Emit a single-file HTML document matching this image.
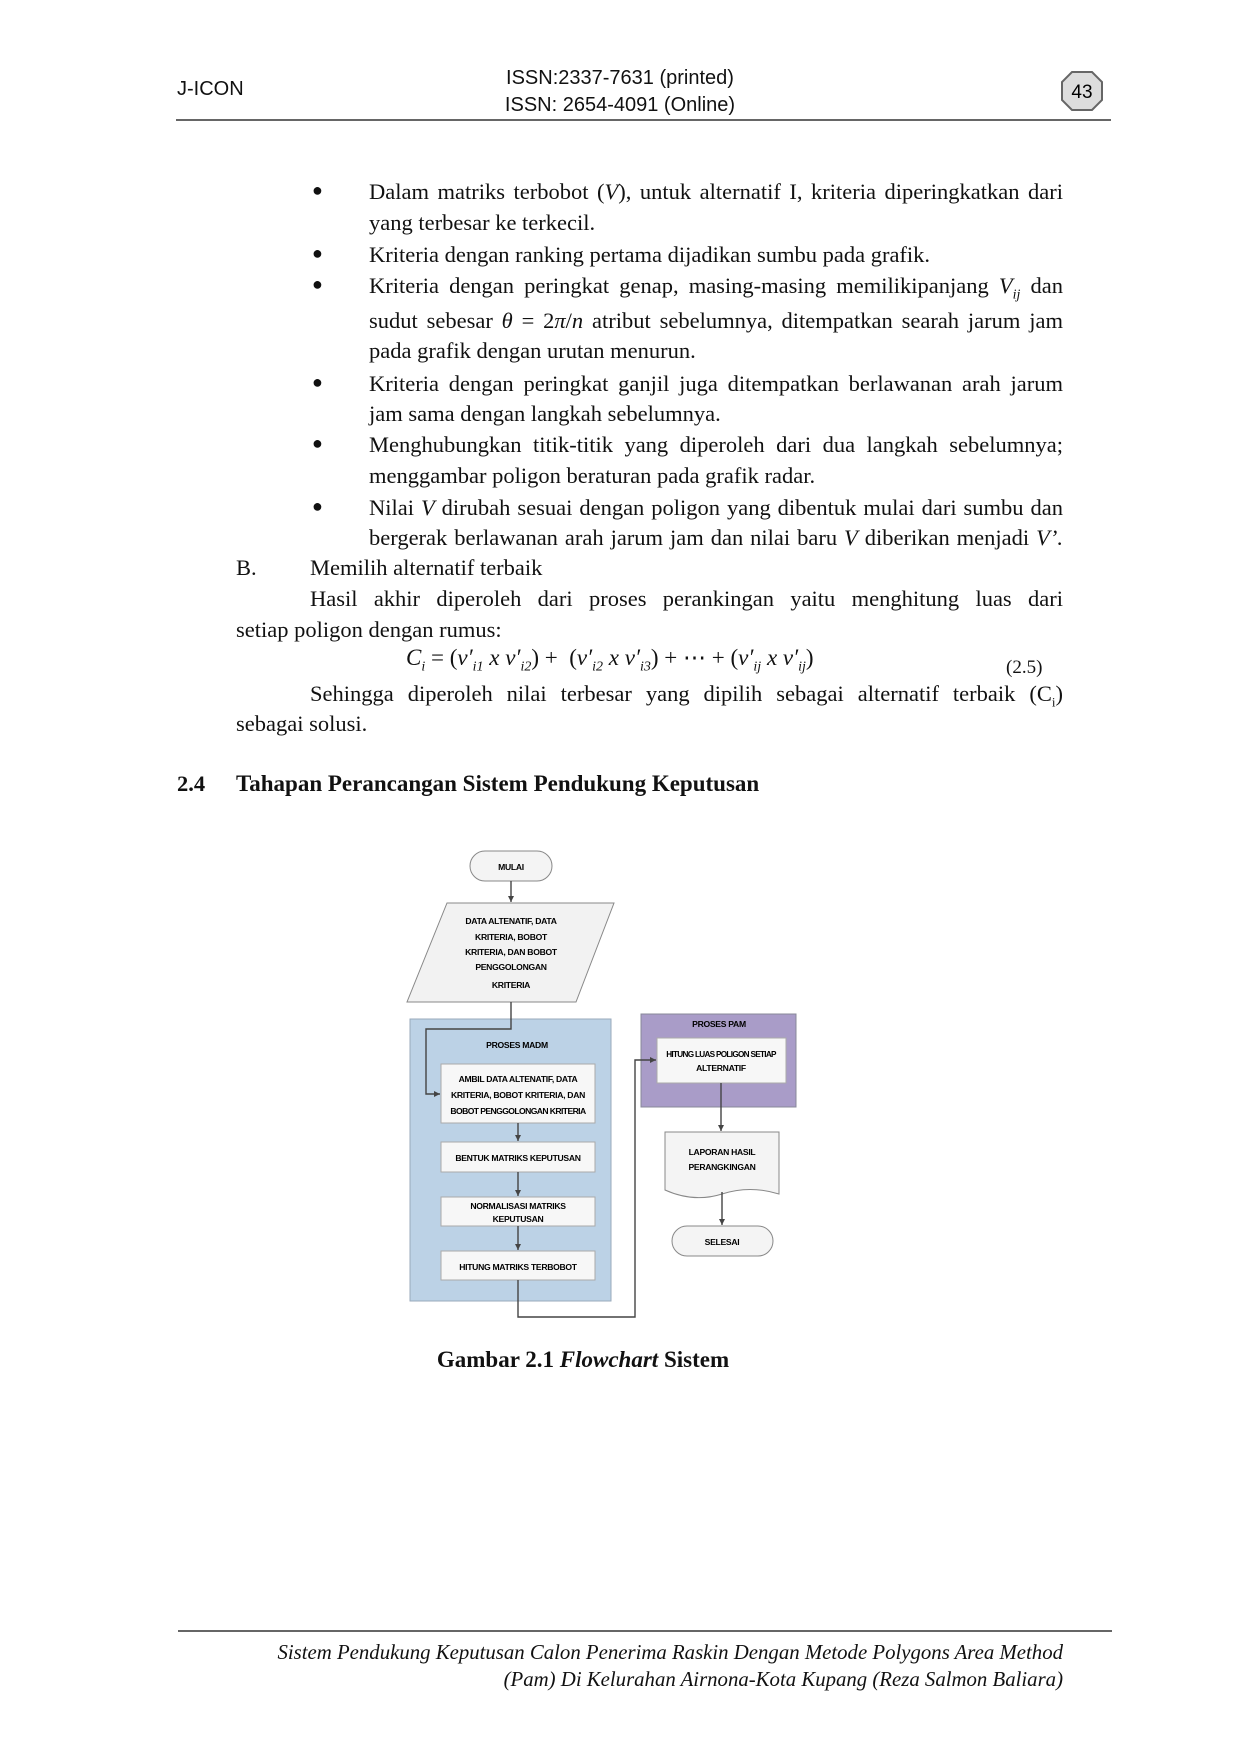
<!DOCTYPE html>
<html><head><meta charset="utf-8"><style>
body{margin:0;background:#fff}
#p{position:relative;width:1240px;height:1754px;overflow:hidden;font-family:"Liberation Serif",serif;color:#111}
.l{position:absolute;font-size:22.5px;line-height:24px;white-space:nowrap}
.j{text-align:justify;text-align-last:justify}
.h{position:absolute;font-family:"Liberation Sans",sans-serif;font-size:20px;line-height:22px}
.f{position:absolute;right:177px;font-style:italic;font-size:20.8px;line-height:22px;text-align:right;white-space:nowrap}
.b{position:absolute;left:312px;font-size:18px}
</style></head><body><div id="p">
<div class="h" style="left:177px;top:78px">J-ICON</div>
<div class="h" style="left:490px;width:260px;text-align:center;top:67px">ISSN:2337-7631 (printed)</div>
<div class="h" style="left:490px;width:260px;text-align:center;top:94px">ISSN: 2654-4091 (Online)</div>
<svg style="position:absolute;left:1060px;top:70px" width="46" height="42"><polygon points="12,2 32,2 42,12 42,30 32,40 12,40 2,30 2,12" fill="#ddd" stroke="#666" stroke-width="2"/><text x="22" y="28" font-family="Liberation Sans" font-size="19" text-anchor="middle">43</text></svg>
<div style="position:absolute;left:176px;top:119px;width:935px;height:2px;background:#666"></div>

<div class="b" style="top:180px">●</div>
<div class="l j" style="left:369px;width:694px;top:180px">Dalam matriks terbobot (<i>V</i>), untuk alternatif I, kriteria diperingkatkan dari</div>
<div class="l" style="left:369px;top:211px">yang terbesar ke terkecil.</div>
<div class="b" style="top:243px">●</div>
<div class="l" style="left:369px;top:243px">Kriteria dengan ranking pertama dijadikan sumbu pada grafik.</div>
<div class="b" style="top:274px">●</div>
<div class="l j" style="left:369px;width:694px;top:274px">Kriteria dengan peringkat genap, masing-masing memilikipanjang <i>V<sub style="font-size:14px">ij</sub></i> dan</div>
<div class="l j" style="left:369px;width:694px;top:309px">sudut sebesar <i>θ</i> = 2<i>π</i>/<i>n</i> atribut sebelumnya, ditempatkan searah jarum jam</div>
<div class="l" style="left:369px;top:339px">pada grafik dengan urutan menurun.</div>
<div class="b" style="top:372px">●</div>
<div class="l j" style="left:369px;width:694px;top:372px">Kriteria dengan peringkat ganjil juga ditempatkan berlawanan arah jarum</div>
<div class="l" style="left:369px;top:402px">jam sama dengan langkah sebelumnya.</div>
<div class="b" style="top:433px">●</div>
<div class="l j" style="left:369px;width:694px;top:433px">Menghubungkan titik-titik yang diperoleh dari dua langkah sebelumnya;</div>
<div class="l" style="left:369px;top:464px">menggambar poligon beraturan pada grafik radar.</div>
<div class="b" style="top:496px">●</div>
<div class="l j" style="left:369px;width:694px;top:496px">Nilai <i>V</i> dirubah sesuai dengan poligon yang dibentuk mulai dari sumbu dan</div>
<div class="l j" style="left:369px;width:694px;top:526px">bergerak berlawanan arah jarum jam dan nilai baru <i>V</i> diberikan menjadi <i>V’.</i></div>
<div class="l" style="left:236px;top:556px">B.</div>
<div class="l" style="left:310px;top:556px">Memilih alternatif terbaik</div>
<div class="l j" style="left:310px;width:753px;top:587px">Hasil akhir diperoleh dari proses perankingan yaitu menghitung luas dari</div>
<div class="l" style="left:236px;top:618px">setiap poligon dengan rumus:</div>
<div class="l" style="left:406px;top:646px;font-size:23px"><i>C<sub style="font-size:14px">i</sub></i> = (<i>v′<sub style="font-size:14px">i1</sub> x v′<sub style="font-size:14px">i2</sub></i>) + &nbsp;(<i>v′<sub style="font-size:14px">i2</sub> x v′<sub style="font-size:14px">i3</sub></i>) + ⋯ + (<i>v′<sub style="font-size:14px">ij</sub> x v′<sub style="font-size:14px">ij</sub></i>)</div>
<div class="l" style="left:1006px;top:656px;font-size:19px">(2.5)</div>
<div class="l j" style="left:310px;width:753px;top:682px">Sehingga diperoleh nilai terbesar yang dipilih sebagai alternatif terbaik (C<sub style="font-size:13px">i</sub>)</div>
<div class="l" style="left:236px;top:712px">sebagai solusi.</div>
<div class="l" style="left:177px;top:772px;font-weight:bold">2.4</div>
<div class="l" style="left:236px;top:772px;font-weight:bold;font-size:23px">Tahapan Perancangan Sistem Pendukung Keputusan</div>

<svg style="position:absolute;left:0;top:0" width="1240" height="1754" font-family="Liberation Sans,sans-serif" font-weight="bold" font-size="8.6" text-anchor="middle" letter-spacing="-0.3">
<defs><marker id="a" markerWidth="6" markerHeight="6" refX="6" refY="3" orient="auto" markerUnits="userSpaceOnUse"><path d="M0,0L6,3L0,6z" fill="#444"/></marker></defs>
<rect x="410" y="1019" width="201" height="282" fill="#bcd2e6" stroke="#9ab" />
<rect x="641" y="1014" width="155" height="93" fill="#a99cc8" stroke="#889"/>
<rect x="470" y="851" width="82" height="30" rx="15" fill="#f4f4f4" stroke="#888"/>
<text x="511" y="870">MULAI</text>
<polygon points="447,903 614,903 576,1002 407,1002" fill="#f2f2f2" stroke="#888"/>
<text x="511" y="924">DATA ALTENATIF, DATA</text><text x="511" y="940">KRITERIA, BOBOT</text><text x="511" y="955">KRITERIA, DAN BOBOT</text><text x="511" y="970">PENGGOLONGAN</text><text x="511" y="988">KRITERIA</text>
<text x="517" y="1048">PROSES MADM</text>
<rect x="441" y="1064" width="154" height="59" fill="#f7f7f7" stroke="#aaa"/>
<text x="518" y="1082">AMBIL DATA ALTENATIF, DATA</text><text x="518" y="1098">KRITERIA, BOBOT KRITERIA, DAN</text><text x="518" y="1114" letter-spacing="-0.6">BOBOT PENGGOLONGAN KRITERIA</text>
<rect x="441" y="1142" width="154" height="30" fill="#f7f7f7" stroke="#aaa"/><text x="518" y="1161">BENTUK MATRIKS KEPUTUSAN</text>
<rect x="441" y="1197" width="154" height="29" fill="#f7f7f7" stroke="#aaa"/><text x="518" y="1209">NORMALISASI MATRIKS</text><text x="518" y="1222">KEPUTUSAN</text>
<rect x="441" y="1251" width="154" height="29" fill="#f7f7f7" stroke="#aaa"/><text x="518" y="1270">HITUNG MATRIKS TERBOBOT</text>
<text x="719" y="1027">PROSES PAM</text>
<rect x="657" y="1038" width="129" height="45" fill="#f7f7f7" stroke="#aaa"/><text x="721" y="1057" letter-spacing="-0.7" font-size="8.2">HITUNG LUAS POLIGON SETIAP</text><text x="721" y="1071">ALTERNATIF</text>
<path d="M665,1132H779V1194Q750,1185 722,1194T665,1190Z" fill="#f4f4f4" stroke="#888"/>
<text x="722" y="1155">LAPORAN HASIL</text><text x="722" y="1170">PERANGKINGAN</text>
<rect x="672" y="1226" width="101" height="30" rx="15" fill="#f4f4f4" stroke="#888"/><text x="722" y="1245">SELESAI</text>
<g stroke="#444" stroke-width="1.4" fill="none">
<path d="M511,881V902" marker-end="url(#a)"/>
<path d="M511,1002V1029H426V1094H440" marker-end="url(#a)"/>
<path d="M518,1123V1141" marker-end="url(#a)"/>
<path d="M518,1172V1196" marker-end="url(#a)"/>
<path d="M518,1226V1250" marker-end="url(#a)"/>
<path d="M518,1280V1317H635V1060H656" marker-end="url(#a)"/>
<path d="M721,1083V1131" marker-end="url(#a)"/>
<path d="M722,1192V1225" marker-end="url(#a)"/>
</g></svg>
<div class="l" style="left:0;width:1166px;text-align:center;top:1348px;font-weight:bold;font-size:23px">Gambar 2.1 <i>Flowchart</i> Sistem</div>

<div style="position:absolute;left:178px;top:1630px;width:934px;height:2px;background:#666"></div>
<div class="f" style="top:1642px">Sistem Pendukung Keputusan Calon Penerima Raskin Dengan Metode Polygons Area Method</div>
<div class="f" style="top:1669px">(Pam) Di Kelurahan Airnona-Kota Kupang (Reza Salmon Baliara)</div>
</div></body></html>
